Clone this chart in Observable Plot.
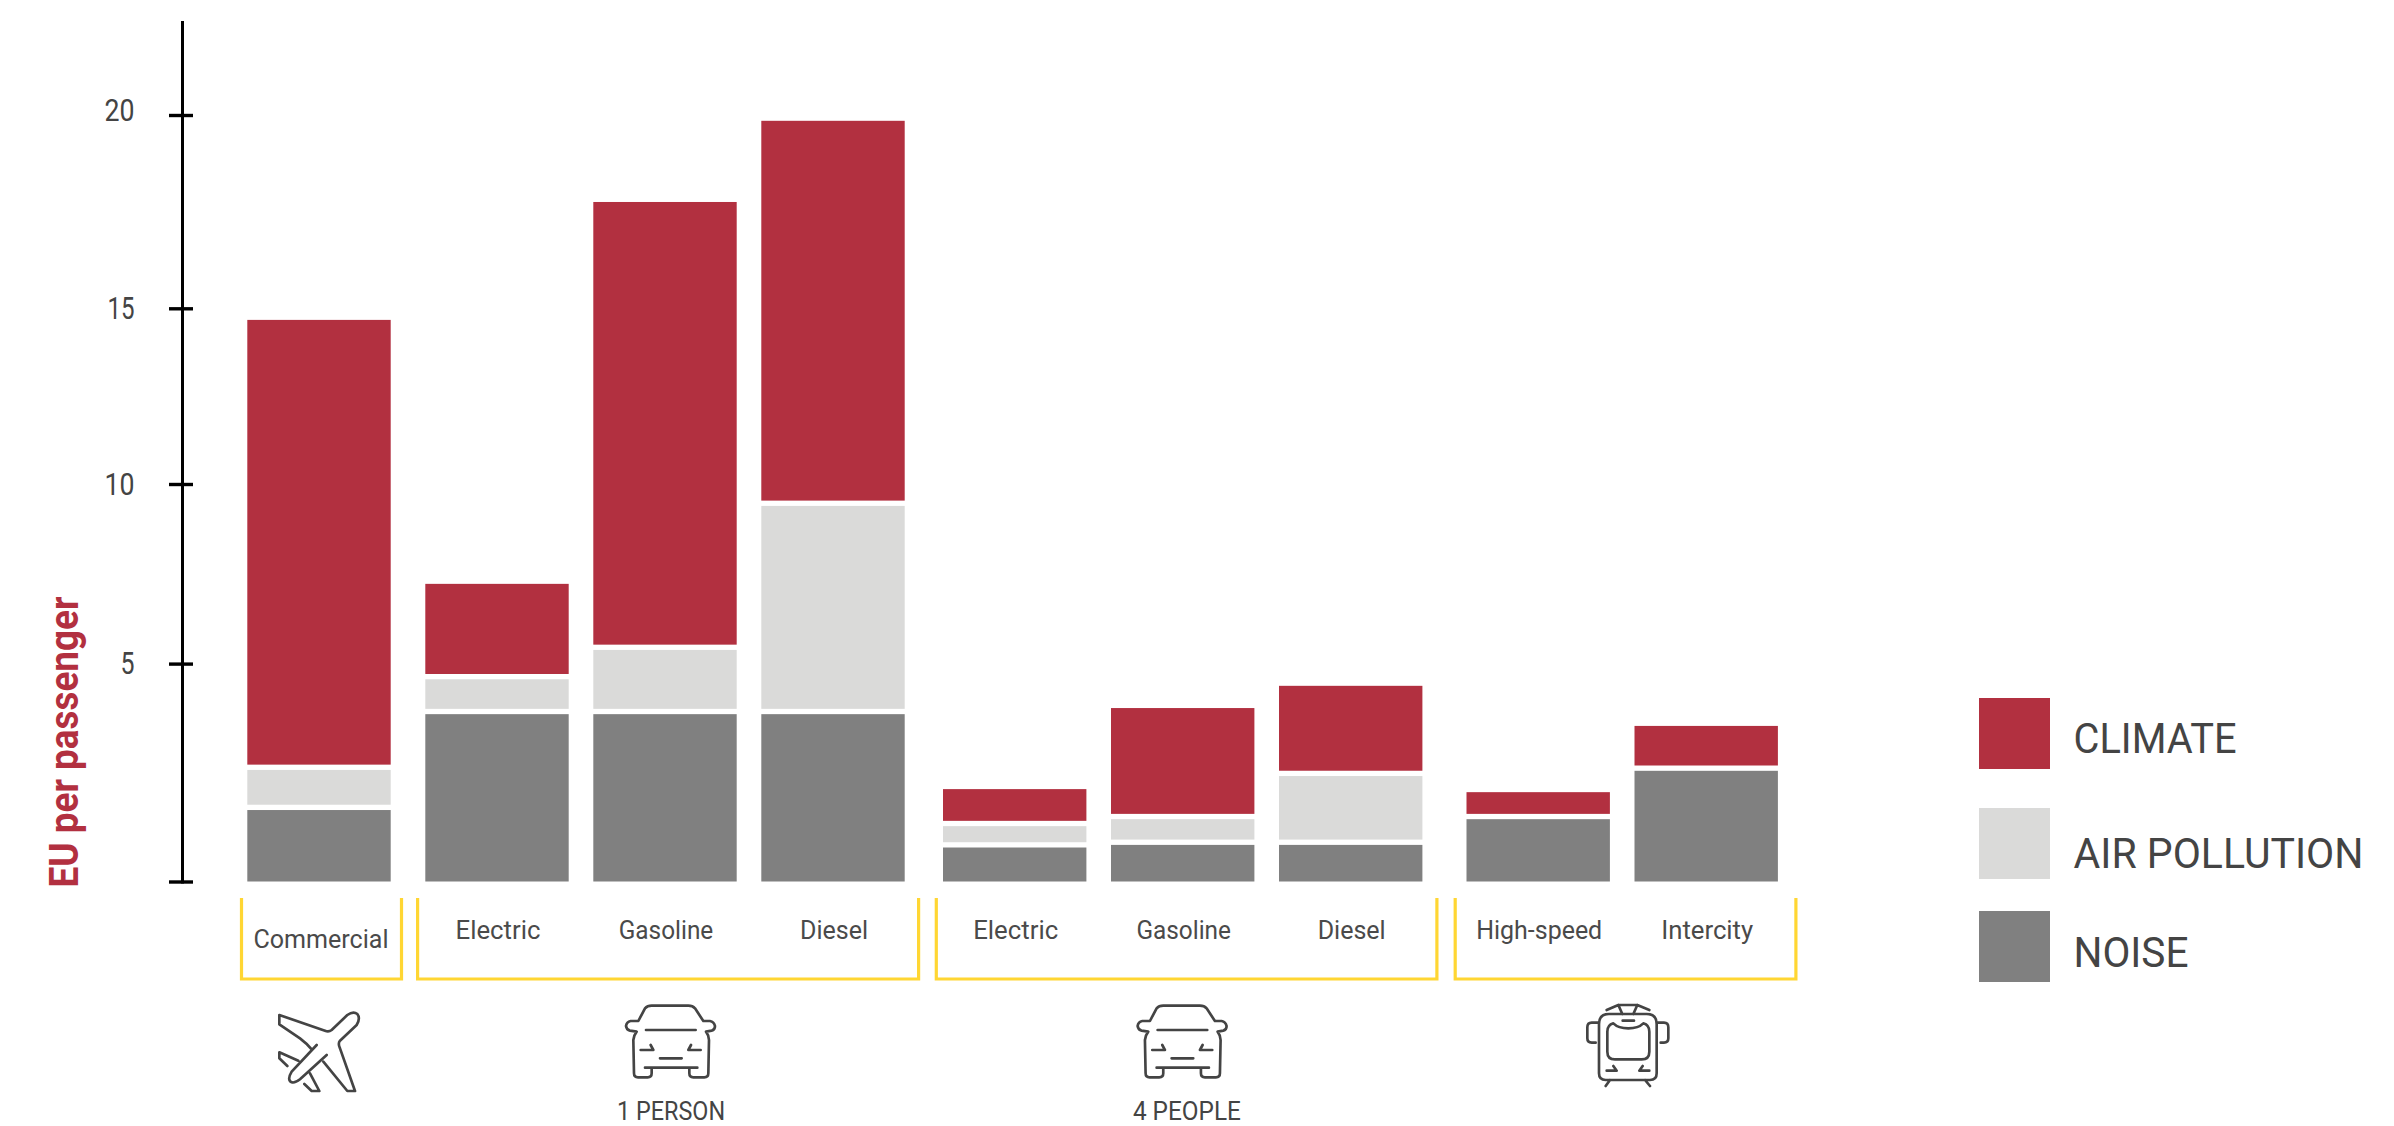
<!DOCTYPE html>
<html>
<head>
<meta charset="utf-8">
<script src="https://cdn.jsdelivr.net/npm/d3@7"></script>
<script src="https://cdn.jsdelivr.net/npm/@observablehq/plot@0.6"></script>
<style>
  html, body { margin: 0; background: #fff; }
  svg { display: block; }
</style>
</head>
<body>
<div id="chart"></div>
<script>
// External costs per passenger, by transport mode and occupancy.
const vehicles = ["Commercial", "Electric", "Gasoline", "Diesel", "Electric", "Gasoline", "Diesel", "High-speed", "Intercity"];
const modes    = ["plane", "one", "one", "one", "four", "four", "four", "rail", "rail"];
const noise    = [1.64, 3.84, 3.84, 3.84, 0.78, 0.84, 0.84, 1.43, 2.54];
const air      = [0.92, 0.80, 1.54, 5.55, 0.49, 0.59, 1.58, 0.00, 0.00];
const climate  = [12.11, 2.58, 12.37, 10.46, 0.85, 2.55, 2.07, 0.62, 1.03];

const seriesNames  = ["CLIMATE", "AIR POLLUTION", "NOISE"];
const seriesColors = ["#b23040", "#dadad9", "#808080"];
const yTicks = [0, 5, 10, 15, 20];

// The printed axis is not evenly spaced, so the scale is piecewise.
const yDomain = [0, 5, 10, 15, 20, 22.4];
const yRange  = [881.5, 663.6, 484, 308.3, 115, 22];

const width = 2394, height = 1126;
const left = 182, top_ = 22;
const ink = "#444";
const font = "Roboto, sans-serif";
const gap = 5.3;

// Mode groups: horizontal shift of the bars and bracket overhang on each side.
const modeLayout = {
  plane: {dx: 0,    padL: 5.8,  padR: 10.8},
  one:   {dx: 10,   padL: 7.7,  padR: 13.9},
  four:  {dx: 23.7, padL: 6.7,  padR: 14.5},
  rail:  {dx: 43.2, padL: 11.3, padR: 18}
};

const ids = vehicles.map((v, i) => `${i}:${v}`);
const rows = vehicles.flatMap((v, i) => {
  const a = noise[i], b = a + air[i], c = b + climate[i];
  return [
    {id: ids[i], mode: modes[i], series: "NOISE", y1: 0, y2: a, value: noise[i]},
    {id: ids[i], mode: modes[i], series: "AIR POLLUTION", y1: a, y2: b, value: air[i]},
    {id: ids[i], mode: modes[i], series: "CLIMATE", y1: b, y2: c, value: climate[i]}
  ];
}).filter(d => d.value > 0);

// Text placed at an absolute spot inside the frame, baseline at py.
const note = (str, px, py, o = {}) => Plot.text([str], {
  text: d => d,
  frameAnchor: "top-left",
  dx: px - left,
  dy: py - top_,
  lineAnchor: "bottom",
  textAnchor: "start",
  fill: ink,
  fontFamily: font,
  fontSize: 25,
  ...o
});

const barMarks = Object.entries(modeLayout).flatMap(([mode, g]) =>
  seriesNames.map(s => Plot.barY(rows.filter(d => d.mode === mode && d.series === s), {
    x: "id", y1: "y1", y2: "y2", fill: "series", dx: g.dx,
    insetBottom: s === "NOISE" ? 0 : gap
  }))
);

const labelMarks = Object.entries(modeLayout).map(([mode, g]) =>
  Plot.text(vehicles.map((v, i) => ({v, i})).filter(d => modes[d.i] === mode), {
    x: d => ids[d.i],
    text: "v",
    frameAnchor: "top",
    dx: g.dx + (mode === "plane" ? 1.5 : 0.5),
    dy: (mode === "plane" ? 947.5 : 938.5) - top_,
    lineAnchor: "bottom",
    fill: "#4a4a4a",
    fontFamily: font,
    fontSize: 26
  })
);

// Yellow brackets that tie the bars of one group together.
function brackets(index, scales) {
  const g = d3.create("svg:g").attr("fill", "none").attr("stroke", "#ffd633").attr("stroke-width", 3.2);
  for (const [mode, m] of Object.entries(modeLayout)) {
    const members = ids.filter((_, i) => modes[i] === mode);
    const x0 = scales.x(members[0]) + m.dx - m.padL;
    const x1 = scales.x(members[members.length - 1]) + scales.x.bandwidth() + m.dx + m.padR;
    g.append("path").attr("d", `M${x0},898V979H${x1}V898`);
  }
  return g.node();
}

// Legend swatches, coloured from the chart's own colour scale.
function swatches(index, scales) {
  const g = d3.create("svg:g");
  seriesNames.forEach((s, i) => {
    g.append("rect").attr("x", 1979).attr("y", [698, 808, 911][i])
      .attr("width", 71).attr("height", 71).attr("fill", scales.color(s));
  });
  return g.node();
}

// Line icons, drawn in a 3× local grid.
const icon = (d, tx, ty) => () => d3.create("svg:path")
  .attr("d", d)
  .attr("transform", `translate(${tx},${ty}) scale(${1 / 3})`)
  .attr("fill", "none").attr("stroke", "#444").attr("stroke-width", 8)
  .attr("stroke-linecap", "round").attr("stroke-linejoin", "round")
  .node();

const planePath = "M58,75V103L120,145Q140,160 155,178M58,75L195,122Q206,127 215,120L262,75Q280,62 292,72Q302,85 290,105L240,152Q233,160 240,175L285,303H262L190,215M170,165L95,245Q80,270 95,277Q105,280 120,268L200,195M115,212L58,187V205L82,228M150,250L178,303H155L133,282";
const carPath = "M105,233H262M125,233V250Q125,262 113,262H84Q72,262 72,250L70,150Q72,135 80,125L60,122Q50,120 48,108Q50,95 62,93H85L105,55Q112,47 125,47H235Q248,47 255,55L280,93H300Q312,95 315,108Q315,120 305,122L288,125Q296,135 297,150L295,250Q295,262 283,262H250Q238,262 238,250V233M108,120H257M92,180H130L122,165M272,180H235L243,165M150,205H215";
const tramPath = "M147,72H260Q290,72 290,102V250Q290,270 270,270H137Q117,270 117,250V102Q117,72 147,72ZM117,98H95Q82,98 82,112V145Q82,158 95,158H107M290,98H312Q325,98 325,112V145Q325,158 312,158H302M160,100Q175,115 205,115Q235,115 250,100Q268,105 268,125V185Q268,208 245,208H165Q142,208 142,185V125Q142,105 160,100ZM188,92H222M140,242H170L160,228M268,242H238L248,228M150,270L137,288M255,270L270,288M140,60L175,45H232L268,60M175,45L187,72M232,45L220,72";

const chart = Plot.plot({
  width, height,
  marginLeft: left, marginTop: top_, marginRight: 0, marginBottom: height - 881.5,
  style: {fontFamily: font, background: "#fff"},
  x: {type: "band", domain: ids, range: [235, 235 + 168 * ids.length], paddingInner: 1 - 143.4 / 168, paddingOuter: (1 - 143.4 / 168) / 2, round: false, axis: null},
  y: {type: "linear", domain: yDomain, range: yRange, axis: null},
  color: {type: "ordinal", domain: seriesNames, range: seriesColors},
  marks: [
    ...barMarks,
    Plot.frame({anchor: "left", stroke: "#000", strokeWidth: 3}),
    Plot.ruleY(yTicks, {y: d => d, stroke: "#000", strokeWidth: 3.4, insetLeft: -13, insetRight: width - 193}),
    Plot.text(yTicks.filter(d => d > 0 && d < 20), {
      y: d => d, text: d => String(d), frameAnchor: "left", dx: 134 - left,
      textAnchor: "end", fill: ink, fontFamily: font, fontSize: 32
    }),
    Plot.text([20], {
      y: d => d, text: d => String(d), frameAnchor: "left", dx: 134 - left, dy: -5,
      textAnchor: "end", fill: ink, fontFamily: font, fontSize: 32
    }),
    ...labelMarks,
    brackets,
    swatches,
    note("CLIMATE", 2073, 752.7, {fontSize: 43}),
    note("AIR POLLUTION", 2073, 867, {fontSize: 43}),
    note("NOISE", 2073, 966.7, {fontSize: 43}),
    note("1 PERSON", 670.6, 1119.5, {textAnchor: "middle"}),
    note("4 PEOPLE", 1186.4, 1119.5, {textAnchor: "middle"}),
    note("EU per passenger", 77, 741.5, {textAnchor: "middle", rotate: -90, fill: "#b23040", fontWeight: 700, fontSize: 40}),
    icon(planePath, 260, 990),
    icon(carPath, 610, 990),
    icon(carPath, 1121.6, 990),
    icon(tramPath, 1560, 990)
  ]
});

// The set labels run narrower than any installed face, so each is fitted to its width.
const textWidths = {
  "20": 30, "15": 27, "10": 30, "5": 14,
  "Commercial": 135, "Electric": 85, "Gasoline": 94.5, "Diesel": 68,
  "High-speed": 126, "Intercity": 92,
  "1 PERSON": 108, "4 PEOPLE": 108,
  "CLIMATE": 163, "AIR POLLUTION": 290, "NOISE": 115,
  "EU per passenger": 291
};
for (const t of chart.querySelectorAll("text")) {
  const w = textWidths[t.textContent.trim()];
  if (w) {
    t.setAttribute("textLength", w);
    t.setAttribute("lengthAdjust", "spacingAndGlyphs");
  }
}

document.getElementById("chart").append(chart);
</script>
</body>
</html>
